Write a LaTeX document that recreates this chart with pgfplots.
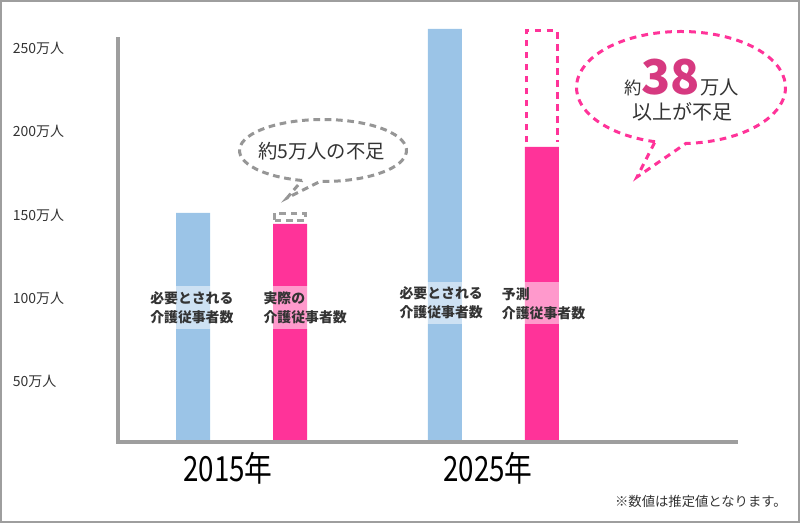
\documentclass[border=0pt]{standalone}
\usepackage{fontspec}
\setmainfont{Noto Sans CJK JP}
\usepackage{graphicx}
\usepackage{pgfplots}
\pgfplotsset{compat=1.18}
\definecolor{barblue}{RGB}{155,196,231}
\definecolor{barpink}{RGB}{255,51,153}
\definecolor{axgray}{RGB}{158,158,158}
\definecolor{txt}{RGB}{51,51,51}
\definecolor{deeppink}{RGB}{214,57,128}
\begin{document}
\begin{tikzpicture}
\begin{scope}[x=0.75pt,y=-0.75pt,shift={(0pt,393.75pt)}]
  \path[use as bounding box] (0,0) rectangle (800,525);
\end{scope}
\begin{axis}[
  at={(88.5pt,62.25pt)}, anchor=south west,
  width=465pt, height=311.25pt, scale only axis,
  xmin=2010.099, xmax=2034.703, ymin=13.8, ymax=262.75,
  axis line style={draw=none},
  tick style={draw=none},
  ytick={50,100,150,200,250},
  yticklabels={50万人,100万人,150万人,200万人,250万人},
  yticklabel style={anchor=west, inner sep=0pt, xshift=-79pt,
    font=\fontsize{10.5}{12}\selectfont, text=txt},
  xtick={2014.464,2024.782},
  xticklabels={\scalebox{0.8}[1]{\fontsize{26}{26}\selectfont 2015年},
               \scalebox{0.8}[1]{\fontsize{26}{26}\selectfont 2025年}},
  xticklabel style={anchor=center, inner sep=0pt, yshift=-19.5pt, text=black},
  clip=true,
]
% required workers
\addplot[ybar, bar width=25.5pt, bar shift=-36.375pt, fill=barblue, draw=none]
  coordinates {(2015,151.2) (2025,261.6)};
% actual / projected workers
\addplot[ybar, bar width=25.5pt, bar shift=36.375pt, fill=barpink, draw=none]
  coordinates {(2015,144.6) (2025,190.9)};
% shortfall outlines
\addplot[color=axgray, line width=2.25pt, dash pattern=on 5pt off 3.5pt]
  coordinates {(2016.321,146.85) (2017.528,146.85) (2017.528,151.05) (2016.321,151.05)} -- cycle;
\addplot[color=barpink, line width=2.25pt, dash pattern=on 5pt off 4pt]
  coordinates {(2026.309,193.5) (2026.309,260.5) (2027.539,260.5) (2027.539,193.5)};
\end{axis}
\begin{scope}[x=0.75pt,y=-0.75pt,shift={(0pt,393.75pt)}]
  % border
  \draw[axgray, line width=1.5pt] (1,1) rectangle (799,521.7);
  % axis lines
  \draw[axgray, line width=2.4pt] (116,442) -- (738,442);
  \draw[axgray, line width=3pt] (118,443.4) -- (118,36.7);
  % in-bar labels
  \tikzset{lbl/.style={anchor=west, align=left, fill=white, fill opacity=0.5,
      text opacity=1, inner xsep=0pt, inner ysep=3.8pt, text=txt,
      font=\fontsize{10.4}{14.25}\selectfont\bfseries}}
  \node[lbl] at (150,307.5) {必要とされる\\介護従事者数};
  \node[lbl] at (263.3,307.5) {実際の\\介護従事者数};
  \node[lbl] at (399.3,302.8) {必要とされる\\介護従事者数};
  \node[lbl] at (501.7,303.3) {予測\\介護従事者数};
  % gray bubble
  \draw[color=axgray!95!black, line width=2.25pt, dash pattern=on 5pt off 3.5pt]
    (323,150.5) ++(104.6:83.5 and 31)
    arc[start angle=104.6, end angle=452, x radius=83.5, y radius=31]
    -- (287,198) -- cycle;
  \node[anchor=base, text=txt, inner sep=0pt, font=\fontsize{14.5}{14.5}\selectfont]
    at (321.5,158.5) {約5万人の不足};
  % pink bubble
  \draw[color=barpink, line width=2.25pt, dash pattern=on 5pt off 4pt]
    (681,87.5) ++(104.4:104.5 and 56)
    arc[start angle=104.4, end angle=447.3, x radius=104.5, y radius=56]
    -- (637,177) -- cycle;
  \node[anchor=base, text=txt, inner sep=0pt] at (681.5,95)
    {{\fontsize{13}{13}\selectfont 約}{\fontsize{36}{36}\selectfont\bfseries\color{deeppink}38}{\fontsize{14.5}{14.5}\selectfont 万人}};
  \node[anchor=base, text=txt, inner sep=0pt, font=\fontsize{15}{15}\selectfont]
    at (682,120) {以上が不足};
  % footnote
  \node[anchor=base east, text=txt, inner sep=0pt, font=\fontsize{10}{10}\selectfont]
    at (787,507) {※数値は推定値となります。};
\end{scope}
\end{tikzpicture}
\end{document}
